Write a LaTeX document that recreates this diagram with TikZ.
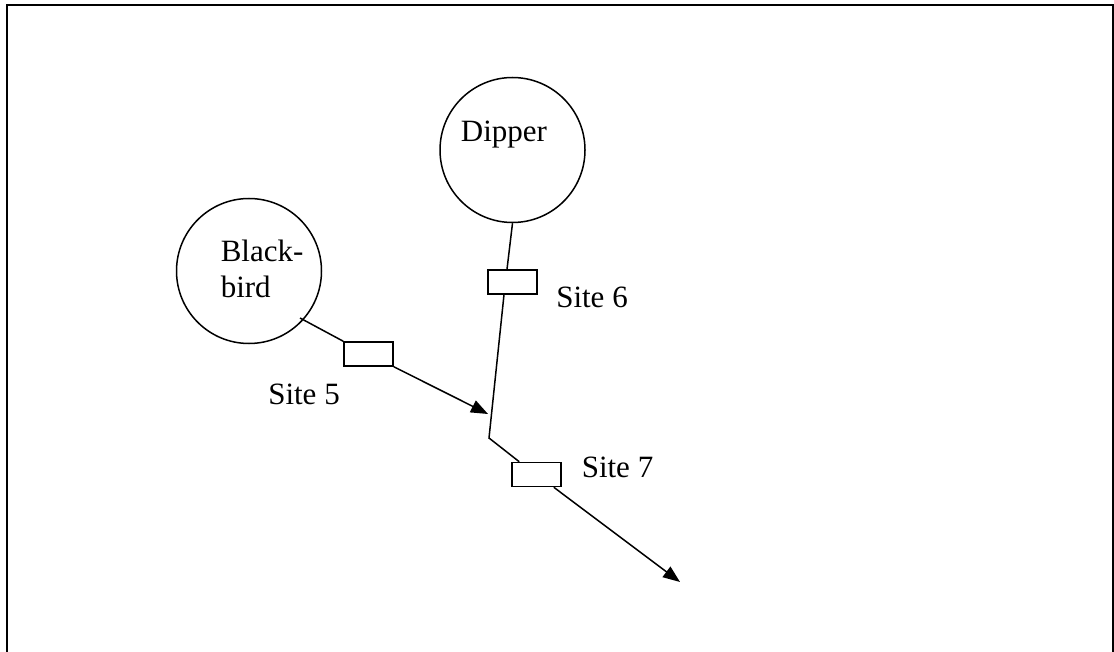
\documentclass[tikz,border=0pt]{standalone}
\usepackage{fontspec}
\setmainfont{Liberation Serif}
\usetikzlibrary{arrows.meta}
\begin{document}
\begin{tikzpicture}[x=1pt,y=-1pt,line width=1.5pt,
  bird/.style={draw,circle,minimum size=145pt,inner sep=0pt},
  sitebox/.style={draw,rectangle,minimum width=49pt,minimum height=24pt,inner sep=0pt},
  txt/.style={font=\fontsize{31}{36}\selectfont,inner sep=0pt},
  arr/.style={-{Triangle[length=17pt,width=13pt]}}]
\useasboundingbox (0,0) rectangle (1114,652);
\clip (0,0) rectangle (1114,652);
\draw[line width=2pt] (7,5) rectangle (1113,680);
% ponds
\node[bird] (bb) at (249,271) {};
\node[txt,anchor=base west] (bbt1) at (220,262) {Black-};
\node[txt,anchor=base west] (bbt2) at (220,298) {bird};
\node[bird] (dp) at (512.5,150) {};
\node[txt,anchor=base] (dpt) at (504,142) {Dipper};
% sites
\node[sitebox] (s5) at (368.5,354) {};
\node[sitebox] (s6) at (512.5,282) {};
\node[sitebox] (s7) at (536.5,474.5) {};
\node[txt,anchor=base] (s5t) at (304,404) {Site 5};
\node[txt,anchor=base] (s6t) at (592,308) {Site 6};
\node[txt,anchor=base] (s7t) at (617.5,477) {Site 7};
% connectors
\coordinate (bbout) at (300,318);
\coordinate (tip5) at (488,414);
\coordinate (j) at (489,438);
\coordinate (tip7) at (680,582);
\draw (bbout) -- (s5.north west);
\draw[arr] (s5.south east) -- (tip5);
\draw (dp.south) -- ([xshift=-5.5pt]s6.north);
\draw ([xshift=-8.5pt]s6.south) -- (j) -- ([xshift=8pt]s7.north west);
\draw[arr] ([xshift=-8pt]s7.south east) -- (tip7);
\end{tikzpicture}
\end{document}
